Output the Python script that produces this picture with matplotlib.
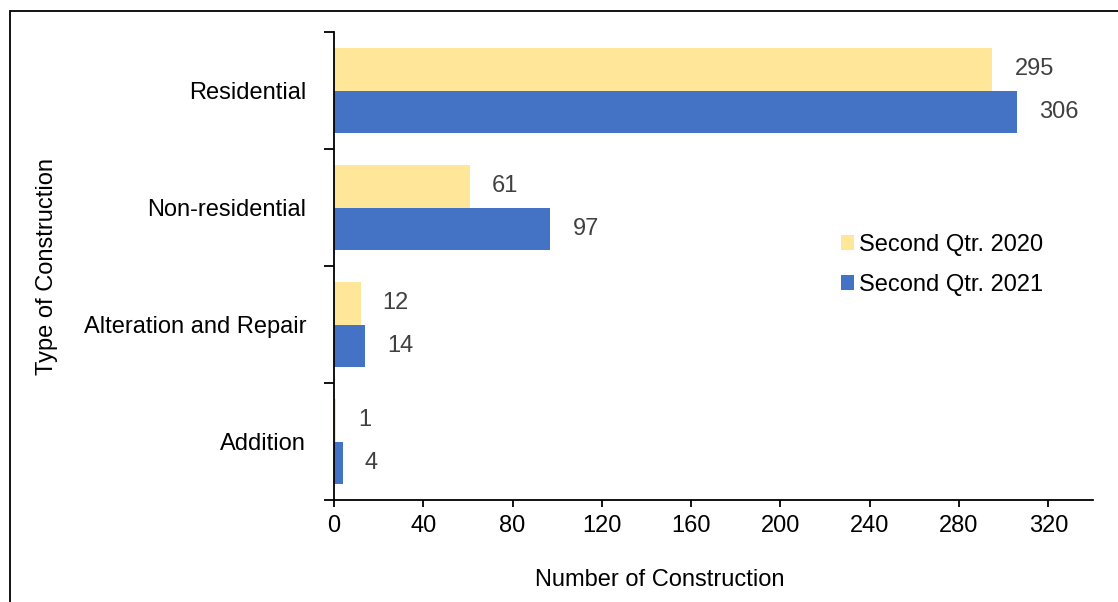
import numpy as np
import matplotlib
matplotlib.use("Agg")
import matplotlib.pyplot as plt
from matplotlib.patches import Rectangle

categories = ["Residential", "Non-residential", "Alteration and Repair", "Addition"]
q2_2020 = [295, 61, 12, 1]
q2_2021 = [306, 97, 14, 4]
series_names = ["Second Qtr. 2020", "Second Qtr. 2021"]
xticks = [0, 40, 80, 120, 160, 200, 240, 280, 320]

plt.rcParams['font.family'] = ['Liberation Sans', 'DejaVu Sans']
FS = 17

fig = plt.figure(figsize=(11.18, 6.02), dpi=100)
ax = fig.add_axes([0.2987, 0.1694, 0.6789, 0.7774])

# frame round the chart (only left/top visible in the crop)
fig.patches.append(Rectangle((0.009, -0.05), 1.2, 1.032, transform=fig.transFigure,
                             fill=False, edgecolor="black", linewidth=1.3))

pos = np.arange(len(categories))[::-1]
h = 0.36
ax.barh(pos + h/2, q2_2020, height=h, color="#FFE699", label=series_names[0])
ax.barh(pos - h/2, q2_2021, height=h, color="#4472C4", label=series_names[1])

for p, v in zip(pos, q2_2020):
    ax.annotate(str(v), (v, p + h/2), xytext=(22, 0), textcoords="offset pixels",
                va="center", ha="left", fontsize=FS, color="#404040")
for p, v in zip(pos, q2_2021):
    ax.annotate(str(v), (v, p - h/2), xytext=(22, 0), textcoords="offset pixels",
                va="center", ha="left", fontsize=FS, color="#404040")

ax.set_xlim(0, 340)
ax.set_ylim(-0.5, len(categories) - 0.5)
ax.set_xticks(xticks)
ax.tick_params(axis="x", labelsize=FS, length=5, width=1.3, direction="out", pad=6)

# category labels on minor ticks, boundary marks on major ticks
ax.set_yticks(np.arange(-0.5, len(categories)), labels=[""] * (len(categories) + 1))
ax.tick_params(axis="y", which="major", length=7, width=1.3, direction="out")
ax.set_yticks(pos, labels=categories, minor=True)
ax.tick_params(axis="y", which="minor", length=0, labelsize=FS, pad=20)

for s in ["top", "right"]:
    ax.spines[s].set_visible(False)
for s in ["left", "bottom"]:
    ax.spines[s].set_linewidth(1.3)

ax.set_xlabel("Number of Construction", fontsize=FS)
ax.xaxis.set_label_coords(0.4295, -0.148)
ax.set_ylabel("Type of Construction", fontsize=FS)
ax.yaxis.set_label_coords(-0.363, 0.5)

ax.legend(loc="upper left", bbox_to_anchor=(0.656, 0.589), frameon=False, fontsize=FS,
          handlelength=0.55, handleheight=0.6, handletextpad=0.2, labelspacing=0.75,
          borderaxespad=0)

fig.savefig("out.png", dpi=100)
